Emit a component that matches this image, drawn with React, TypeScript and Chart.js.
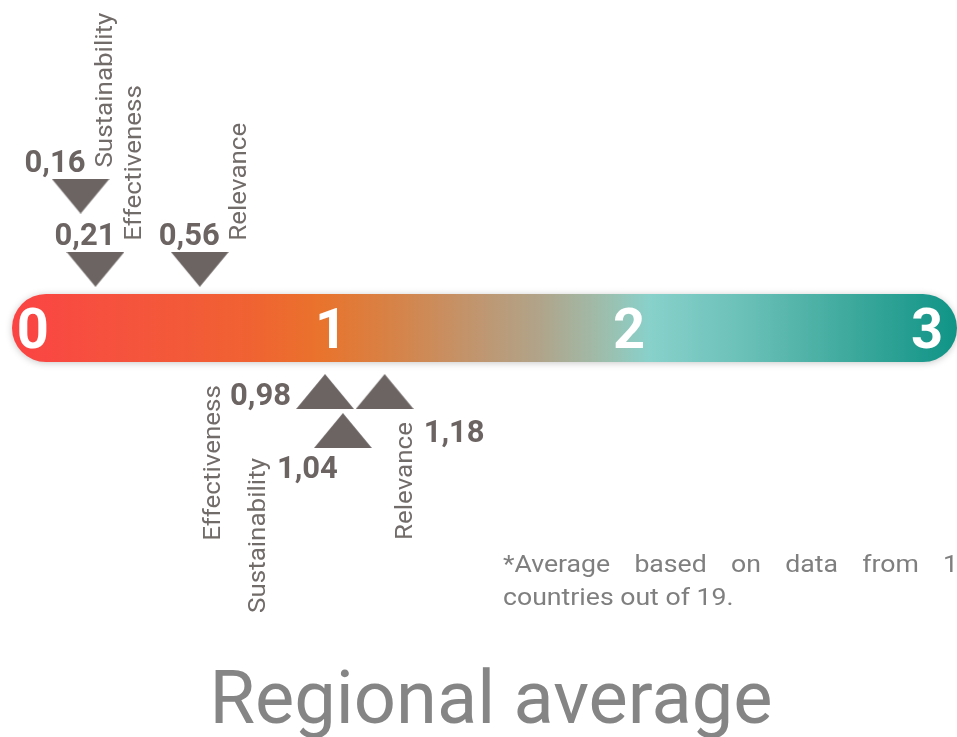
import React, { useEffect, useRef } from 'react';
import { Chart, registerables } from 'chart.js';

Chart.register(...registerables);

// ---------------- data ----------------
const SCALE_TICKS = [0, 1, 2, 3];
const SCALE_TICK_LABELS = ['0', '1', '2', '3'];

const ABOVE_CATEGORIES = ['Sustainability', 'Effectiveness', 'Relevance'];
const ABOVE_VALUES = [0.16, 0.21, 0.56];

const BELOW_CATEGORIES = ['Effectiveness', 'Sustainability', 'Relevance'];
const BELOW_VALUES = [0.98, 1.04, 1.18];

const TITLE_TEXT = 'Regional average';
const FOOTNOTE_LINE_1 = ['*Average', 'based', 'on', 'data', 'from', '16'];
const FOOTNOTE_LINE_2 = 'countries out of 19.';

// ---------------- layout / style ----------------
const W = 957;
const H = 737;
const X_MIN = -0.07;
const X_MAX = 3.1;
const Y_MIN = -6.82;
const Y_MAX = 5.47;
const ABOVE_TIER_Y = [0.98, 2.2];
const BELOW_TIER_Y = [-1.06, -1.71];
const COLLISION = 0.19; // value distance under which markers go to the next tier
const ABOVE_SHIFT_BY_TIER = [20, 5];
const BELOW_PLACEMENT = ['left', 'below', 'right'];
const TRI_W = 58;
const TRI_H = 35;
const BAR_HALF = 34;
const MARK_COLOR = '#6b6462';
const CAT_COLOR = '#716b69';
const FONT = 'Roboto, "Noto Sans", sans-serif';
const ROT_STRETCH = 1.13;
const CAT_SIZE = 23;

const GRADIENT_STOPS: [number, string][] = [
  [0, '#fb4343'],
  [0.093, '#f6503f'],
  [0.252, '#f06232'],
  [0.326, '#e9732c'],
  [0.41, '#d5844a'],
  [0.485, '#c2946c'],
  [0.559, '#b0a48a'],
  [0.622, '#9fbcaa'],
  [0.675, '#88d1cb'],
  [0.781, '#68bfb6'],
  [0.887, '#3ea99d'],
  [1, '#0f9486'],
];

function assignTiers(values: number[]): number[] {
  const order = values.map((v, i) => i).sort((a, b) => values[b] - values[a]);
  const tiers = new Array(values.length).fill(0);
  const placed: { v: number; t: number }[] = [];
  for (const i of order) {
    let t = 0;
    while (placed.some((p) => p.t === t && Math.abs(p.v - values[i]) < COLLISION)) t++;
    tiers[i] = t;
    placed.push({ v: values[i], t });
  }
  return tiers;
}

function makeTriangle(up: boolean): HTMLCanvasElement {
  const c = document.createElement('canvas');
  c.width = TRI_W;
  c.height = TRI_H;
  const g = c.getContext('2d')!;
  g.fillStyle = MARK_COLOR;
  g.beginPath();
  if (up) {
    g.moveTo(TRI_W / 2, 0);
    g.lineTo(TRI_W, TRI_H);
    g.lineTo(0, TRI_H);
  } else {
    g.moveTo(0, 0);
    g.lineTo(TRI_W, 0);
    g.lineTo(TRI_W / 2, TRI_H);
  }
  g.closePath();
  g.fill();
  return c;
}

const fmt = (v: number) => v.toFixed(2).replace('.', ',');

function drawRotated(ctx: CanvasRenderingContext2D, text: string, bx: number, by: number, align: CanvasTextAlign) {
  ctx.save();
  ctx.translate(bx, by);
  ctx.rotate(-Math.PI / 2);
  ctx.scale(ROT_STRETCH, 1);
  ctx.textAlign = align;
  ctx.textBaseline = 'alphabetic';
  ctx.fillText(text, 0, 0);
  ctx.restore();
}

const infographicPlugin = {
  id: 'infographic',
  beforeDatasetsDraw(chart: any) {
    const ctx: CanvasRenderingContext2D = chart.ctx;
    const xs = chart.scales.x;
    const ys = chart.scales.y;
    const x0 = xs.getPixelForValue(X_MIN);
    const x1 = xs.getPixelForValue(X_MAX);
    const yc = ys.getPixelForValue(0);
    ctx.save();
    const grad = ctx.createLinearGradient(x0, 0, x1, 0);
    GRADIENT_STOPS.forEach(([o, c]) => grad.addColorStop(o, c));
    ctx.shadowColor = 'rgba(0,0,0,0.22)';
    ctx.shadowBlur = 7;
    ctx.shadowOffsetY = 1;
    ctx.fillStyle = grad;
    ctx.beginPath();
    (ctx as any).roundRect(x0, yc - BAR_HALF, x1 - x0, BAR_HALF * 2, BAR_HALF);
    ctx.fill();
    ctx.restore();

    // scale numbers
    ctx.save();
    ctx.fillStyle = '#ffffff';
    ctx.font = `bold 56px ${FONT}`;
    ctx.textAlign = 'center';
    ctx.textBaseline = 'alphabetic';
    SCALE_TICKS.forEach((t, i) => {
      ctx.fillText(SCALE_TICK_LABELS[i], xs.getPixelForValue(t), yc + 20);
    });
    ctx.restore();
  },
  afterDatasetsDraw(chart: any) {
    const ctx: CanvasRenderingContext2D = chart.ctx;
    const aboveTiers = assignTiers(ABOVE_VALUES);
    const valueFont = `bold 31px ${FONT}`;
    const catFont = `${CAT_SIZE}px ${FONT}`;

    // above markers
    const metaA = chart.getDatasetMeta(0);
    ABOVE_VALUES.forEach((v, i) => {
      const el = metaA.data[i];
      const cx = el.x;
      const cy = el.y;
      const base = cy - TRI_H / 2;
      const valueRight = cx + ABOVE_SHIFT_BY_TIER[aboveTiers[i]];
      const vb = base - 7;
      ctx.save();
      ctx.fillStyle = MARK_COLOR;
      ctx.font = valueFont;
      ctx.textAlign = 'right';
      ctx.textBaseline = 'alphabetic';
      ctx.fillText(fmt(v), valueRight, vb);
      ctx.fillStyle = CAT_COLOR;
      ctx.font = catFont;
      drawRotated(ctx, ABOVE_CATEGORIES[i], valueRight + 26, vb - 4, 'left');
      ctx.restore();
    });

    // below markers
    const metaB = chart.getDatasetMeta(1);
    BELOW_VALUES.forEach((v, i) => {
      const el = metaB.data[i];
      const cx = el.x;
      const cy = el.y;
      const tip = cy - TRI_H / 2;
      const base = cy + TRI_H / 2;
      const label = fmt(v);
      ctx.save();
      ctx.font = valueFont;
      const w = ctx.measureText(label).width;
      let valueLeft: number;
      let vb: number;
      let bx: number;
      const place = BELOW_PLACEMENT[i];
      if (place === 'right') {
        bx = cx + 27;
        valueLeft = bx + 12;
        vb = base + 33;
      } else if (place === 'below') {
        valueLeft = cx - 5 - w;
        vb = base + 30;
        bx = valueLeft - 12;
      } else {
        valueLeft = cx - 34 - w;
        vb = tip + 31;
        bx = valueLeft - 10;
      }
      ctx.fillStyle = MARK_COLOR;
      ctx.textAlign = 'left';
      ctx.textBaseline = 'alphabetic';
      ctx.fillText(label, valueLeft, vb);
      ctx.fillStyle = CAT_COLOR;
      ctx.font = catFont;
      drawRotated(ctx, BELOW_CATEGORIES[i], bx, vb - 20, 'right');
      ctx.restore();
    });

    // footnote (justified first line)
    ctx.save();
    ctx.fillStyle = '#7f7f7f';
    ctx.font = `24px ${FONT}`;
    ctx.textAlign = 'left';
    ctx.textBaseline = 'alphabetic';
    const fx = 503;
    const fw = 470;
    const sx = 1.11;
    const widths = FOOTNOTE_LINE_1.map((wd) => ctx.measureText(wd).width * sx);
    const total = widths.reduce((a, b) => a + b, 0);
    const gap = (fw - total) / (FOOTNOTE_LINE_1.length - 1);
    let px = fx;
    FOOTNOTE_LINE_1.forEach((wd, i) => {
      ctx.save();
      ctx.translate(px, 572);
      ctx.scale(sx, 1);
      ctx.fillText(wd, 0, 0);
      ctx.restore();
      px += widths[i] + gap;
    });
    ctx.save();
    ctx.translate(fx, 605);
    ctx.scale(sx, 1);
    ctx.fillText(FOOTNOTE_LINE_2, 0, 0);
    ctx.restore();
    ctx.restore();

    // title
    ctx.save();
    ctx.fillStyle = '#858585';
    ctx.font = `74px ${FONT}`;
    ctx.textAlign = 'center';
    ctx.textBaseline = 'alphabetic';
    ctx.fillText(TITLE_TEXT, 491, 723);
    ctx.restore();
  },
};

export default function App() {
  const ref = useRef<HTMLCanvasElement | null>(null);

  useEffect(() => {
    if (!ref.current) return;
    const aboveTiers = assignTiers(ABOVE_VALUES);
    const belowTiers = assignTiers(BELOW_VALUES);
    const chart = new Chart(ref.current, {
      type: 'scatter',
      data: {
        datasets: [
          {
            label: 'Above',
            data: ABOVE_VALUES.map((v, i) => ({ x: v, y: ABOVE_TIER_Y[aboveTiers[i]] })),
            pointStyle: makeTriangle(false) as any,
            pointRadius: 20,
            pointHoverRadius: 20,
            clip: false as any,
          },
          {
            label: 'Below',
            data: BELOW_VALUES.map((v, i) => ({ x: v, y: BELOW_TIER_Y[belowTiers[i]] })),
            pointStyle: makeTriangle(true) as any,
            pointRadius: 20,
            pointHoverRadius: 20,
            clip: false as any,
          },
        ],
      },
      options: {
        responsive: false,
        maintainAspectRatio: false,
        animation: false,
        events: [],
        layout: { autoPadding: false, padding: { left: 12, right: 0, top: 0, bottom: 0 } },
        scales: {
          x: { type: 'linear', min: X_MIN, max: X_MAX, display: false },
          y: { type: 'linear', min: Y_MIN, max: Y_MAX, display: false },
        },
        plugins: {
          legend: { display: false },
          tooltip: { enabled: false },
          title: { display: false },
        },
      },
      plugins: [infographicPlugin],
    });
    let alive = true;
    if ((document as any).fonts && (document as any).fonts.ready) {
      (document as any).fonts.ready.then(() => {
        if (alive) chart.update();
      });
    }
    return () => {
      alive = false;
      chart.destroy();
    };
  }, []);

  return (
    <div style={{ position: 'fixed', left: 0, top: 0, width: W, height: H, background: '#fff' }}>
      <canvas ref={ref} width={W} height={H} style={{ display: 'block' }} />
    </div>
  );
}
